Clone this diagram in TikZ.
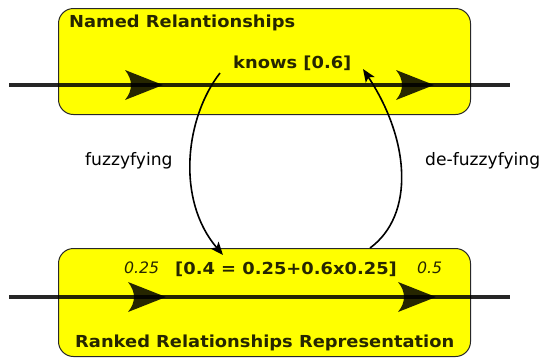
\documentclass[tikz,border=0pt]{standalone}
\usepackage{fontspec}
\setmainfont{DejaVu Sans}
\newfontfamily\heavyfont{DejaVu Sans}[FakeStretch=1.08]
\usetikzlibrary{arrows.meta}
\definecolor{panelyel}{RGB}{255,255,0}
\definecolor{paneledge}{RGB}{40,40,40}
\begin{document}
\begin{tikzpicture}[x=1bp,y=-1bp,
  panel/.style={draw=paneledge, line width=1bp, fill=panelyel, rounded corners=15bp, inner sep=0, anchor=north west},
  flow/.style={line width=3.8bp, draw=black, draw opacity=0.85},
  lbl/.style={inner sep=0, anchor=base west, text opacity=0.85, font=\fontsize{16.6}{20}\heavyfont\bfseries},
  plain/.style={inner sep=0, anchor=base west, font=\fontsize{17.2}{20}\selectfont},
  weight/.style={inner sep=0, anchor=base west, text opacity=0.85, font=\fontsize{15.8}{18}\selectfont\itshape},
  curvearrow/.style={line width=1.6bp, draw=black, -{Stealth[length=13bp,width=10.5bp,inset=3bp]}},
  flowhead/.pic={\fill[black, fill opacity=0.85] (0,-15) -- (38,0) -- (0,15) .. controls (8,5) and (8,-5) .. cycle;}
]
\useasboundingbox (0,0) rectangle (547,358);
% panels
\node[panel, minimum width=412bp, minimum height=106bp] (named) at (58,8) {};
\node[panel, minimum width=412bp, minimum height=108bp] (ranked) at (58,248) {};
% flow lines
\coordinate (tl) at (9,85);
\coordinate (tr) at (510,85);
\coordinate (bl) at (9,297);
\coordinate (br) at (510,297);
\draw[flow] (tl) -- (tr);
\draw[flow] (bl) -- (br);
\pic at (125,85) {flowhead};
\pic at (396,85) {flowhead};
\pic at (128,297) {flowhead};
\pic at (398,297) {flowhead};
% texts
\node[lbl] (namedtitle) at (69,27) {Named Relantionships};
\node[lbl] (knows) at (233,68) {knows [0.6]};
\node[plain] (fuzz) at (85,165) {fuzzyfying};
\node[plain] (defuzz) at (425,165) {de-fuzzyfying};
\node[weight] (wa) at (124,273) {0.25};
\node[lbl] (formula) at (175,274) {[0.4 = 0.25+0.6x0.25]};
\node[weight] (wb) at (417,273) {0.5};
\node[lbl] (rankedtitle) at (75,347) {Ranked Relationships Representation};
% connectors
\coordinate (fs) at (220,73);
\coordinate (fe) at (223,255);
\coordinate (ds) at (370,248);
\coordinate (de) at (363,69);
\draw[curvearrow] (fs) .. controls (185,118) and (176,200) .. (fe);
\draw[curvearrow] (ds) .. controls (415,215) and (410,140) .. (de);
\end{tikzpicture}
\end{document}
